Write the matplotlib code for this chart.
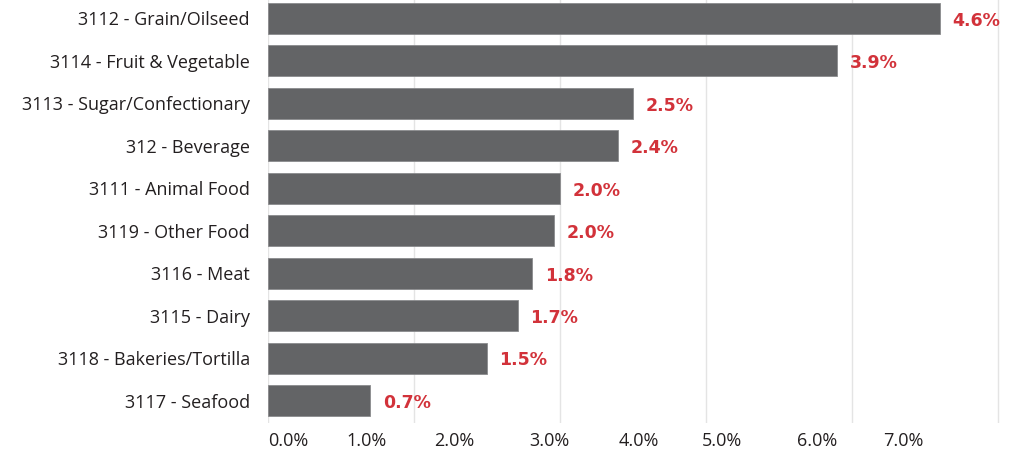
import matplotlib
matplotlib.use("Agg")
import matplotlib.pyplot as plt

# industry labels, top to bottom
labels = ["3112 - Grain/Oilseed", "3114 - Fruit & Vegetable", "3113 - Sugar/Confectionary",
          "312 - Beverage", "3111 - Animal Food", "3119 - Other Food", "3116 - Meat",
          "3115 - Dairy", "3118 - Bakeries/Tortilla", "3117 - Seafood"]
values = [4.6, 3.9, 2.5, 2.4, 2.0, 1.96, 1.81, 1.71, 1.5, 0.7]
value_text = ["4.6%", "3.9%", "2.5%", "2.4%", "2.0%", "2.0%", "1.8%", "1.7%", "1.5%", "0.7%"]

grid_ticks = [0, 1, 2, 3, 4, 5]
# the x tick labels in the source are drawn out of step with the gridlines
tick_text = ["0.0%", "1.0%", "2.0%", "3.0%", "4.0%", "5.0%", "6.0%", "7.0%"]
tick_pos = [0, 0.54, 1.14, 1.79, 2.40, 2.97, 3.62, 4.21]

bar_color = "#636466"
red = "#d2323a"
text_color = "#231f20"

plt.rcParams['font.family'] = ['Open Sans', 'DejaVu Sans']

fig = plt.figure(figsize=(10.24, 4.67), dpi=100)
ax = fig.add_axes([268/1024, 1 - 423/467, (1001 - 268)/1024, 423/467])

ypos = list(range(len(labels)))
ax.barh(ypos, values, height=0.73, color=bar_color, edgecolor="#8a8b8d", linewidth=0.6, zorder=2)

for y, v, t in zip(ypos, values, value_text):
    ax.annotate(t, (v, y), xytext=(9, -1.5), textcoords="offset points",
                ha="left", va="center", color=red, fontsize=12.5, fontweight="bold",
                family="DejaVu Sans")

ax.set_ylim(9.52, -0.435)
ax.set_xlim(0, 5.02)
ax.set_yticks(ypos)
ax.set_yticklabels(labels, fontsize=13, color=text_color)
ax.tick_params(axis="y", length=0, pad=13)

ax.set_xticks(grid_ticks)
ax.set_xticklabels([])
ax.tick_params(axis="x", length=0)
ax.grid(axis="x", color="#e4e4e4", linewidth=1, zorder=0)
for s in ax.spines.values():
    s.set_visible(False)

for p, t in zip(tick_pos, tick_text):
    ax.text(p, -0.022, t, transform=ax.get_xaxis_transform(), ha="left", va="top",
            fontsize=13, color=text_color)

fig.savefig("out.png", dpi=100, facecolor="white")
